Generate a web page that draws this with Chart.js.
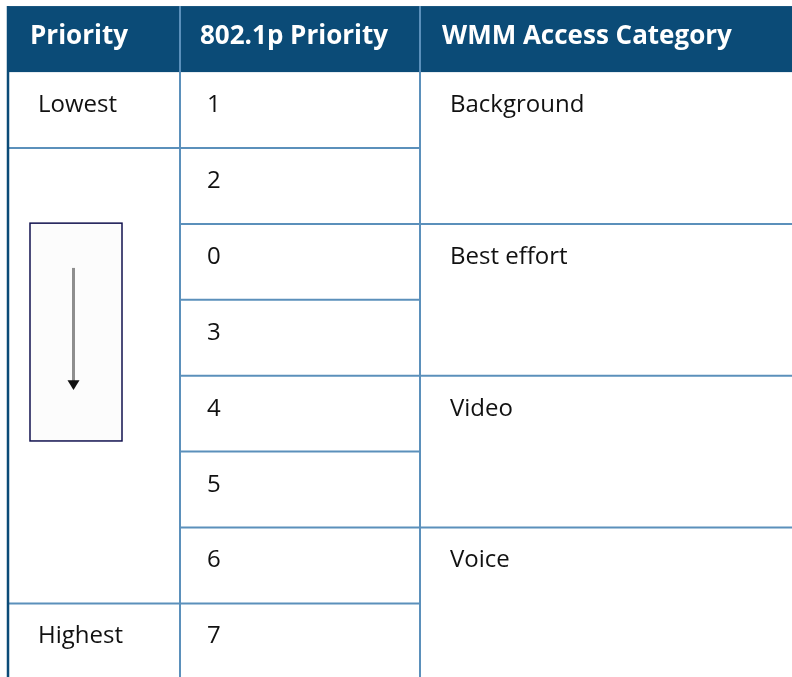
<!DOCTYPE html>
<html>
<head>
<meta charset="utf-8">
<script src="https://cdn.jsdelivr.net/npm/chart.js@4.4.1/dist/chart.umd.min.js"></script>
<style>
  html, body { margin: 0; padding: 0; background: #fff; }
  canvas { display: block; }
</style>
</head>
<body>
<canvas id="tablaPrioridad" width="792" height="677"></canvas>
<script>
const headers = ["Priority", "802.1p Priority", "WMM Access Category"];
const priorityLabels = ["Lowest", "", "Highest"];
const prioritySpans = [1, 6, 1];
const dot1pValues = ["1", "2", "0", "3", "4", "5", "6", "7"];
const wmmCategories = ["Background", "Best effort", "Video", "Voice"];
const wmmSpans = [2, 2, 2, 2];

// layout: x in page units, y in table rows (header sits above row 0)
const colEdges = [8, 180, 420, 792];
const headerTextX = [30, 200, 442];
const cellTextX = [38, 207, 450];
const HEADER_TOP = -0.87;
const HEADER_BASE = -0.37;
const TEXT_BASE = 0.527;

const HEADER_BG = "#0b4b77";
const GRID = "#5b90bb";
const FONT = "'Open Sans', 'Noto Sans', sans-serif";

function spanStarts(spans) {
  let r = 0;
  return spans.map(s => { const start = r; r += s; return start; });
}

const priorityStarts = spanStarts(prioritySpans);
const wmmStarts = spanStarts(wmmSpans);

const datasets = [
  {
    label: "priority",
    data: priorityLabels.map((t, i) => ({ x: cellTextX[0], y: priorityStarts[i] + TEXT_BASE, text: t }))
  },
  {
    label: "dot1p",
    data: dot1pValues.map((t, i) => ({ x: cellTextX[1], y: i + TEXT_BASE, text: t }))
  },
  {
    label: "wmm",
    data: wmmCategories.map((t, i) => ({ x: cellTextX[2], y: wmmStarts[i] + TEXT_BASE, text: t }))
  }
].map(d => Object.assign(d, { pointRadius: 0, pointHoverRadius: 0 }));

const tablePlugin = {
  id: "tablePlugin",
  beforeDatasetsDraw(chart) {
    const ctx = chart.ctx;
    const xs = chart.scales.x, ys = chart.scales.y;
    const X = v => xs.getPixelForValue(v);
    const Y = v => ys.getPixelForValue(v);
    const nRows = dot1pValues.length;
    ctx.save();

    // header band
    ctx.fillStyle = HEADER_BG;
    ctx.fillRect(X(colEdges[0]), Y(HEADER_TOP), X(colEdges[3]) - X(colEdges[0]), Y(0) - Y(HEADER_TOP));

    // horizontal lines per column
    ctx.strokeStyle = GRID;
    ctx.lineWidth = 2;
    const hline = (r, c) => {
      ctx.beginPath();
      ctx.moveTo(X(colEdges[c]), Y(r));
      ctx.lineTo(X(colEdges[c + 1]), Y(r));
      ctx.stroke();
    };
    priorityStarts.slice(1).forEach(r => hline(r, 0));
    for (let r = 1; r < nRows; r++) hline(r, 1);
    wmmStarts.slice(1).forEach(r => hline(r, 2));

    // vertical separators
    [colEdges[1], colEdges[2]].forEach(c => {
      ctx.beginPath();
      ctx.moveTo(X(c), Y(HEADER_TOP));
      ctx.lineTo(X(c), Y(nRows + 1));
      ctx.stroke();
    });
    ctx.strokeStyle = HEADER_BG;
    ctx.lineWidth = 2.5;
    ctx.beginPath();
    ctx.moveTo(X(colEdges[0]), Y(HEADER_TOP));
    ctx.lineTo(X(colEdges[0]), Y(nRows + 1));
    ctx.stroke();

    // arrow picture in the merged priority cell
    const bx0 = X(30), bx1 = X(122), by0 = Y(1.99), by1 = Y(4.86);
    ctx.fillStyle = "#fcfcfc";
    ctx.fillRect(bx0, by0, bx1 - bx0, by1 - by0);
    ctx.strokeStyle = "#12124f";
    ctx.lineWidth = 1.5;
    ctx.strokeRect(bx0, by0, bx1 - bx0, by1 - by0);
    const ax = X(73.5);
    ctx.strokeStyle = "#8e8e8e";
    ctx.lineWidth = 3;
    ctx.beginPath();
    ctx.moveTo(ax, Y(2.58));
    ctx.lineTo(ax, Y(4.07));
    ctx.stroke();
    ctx.fillStyle = "#111";
    ctx.beginPath();
    ctx.moveTo(ax - 6, Y(4.06));
    ctx.lineTo(ax + 6, Y(4.06));
    ctx.lineTo(ax, Y(4.19));
    ctx.closePath();
    ctx.fill();

    // header texts
    ctx.fillStyle = "#ffffff";
    ctx.font = "bold 26px " + FONT;
    ctx.textBaseline = "alphabetic";
    headers.forEach((h, i) => ctx.fillText(h, X(headerTextX[i]), Y(HEADER_BASE)));
    ctx.restore();
  },
  afterDatasetsDraw(chart) {
    const ctx = chart.ctx;
    ctx.save();
    ctx.fillStyle = "#111111";
    ctx.font = "24px " + FONT;
    ctx.textBaseline = "alphabetic";
    chart.data.datasets.forEach((ds, di) => {
      chart.getDatasetMeta(di).data.forEach((pt, j) => {
        const t = ds.data[j].text;
        if (t) ctx.fillText(t, pt.x, pt.y);
      });
    });
    ctx.restore();
  }
};

new Chart(document.getElementById("tablaPrioridad").getContext("2d"), {
  type: "scatter",
  data: { datasets: datasets },
  options: {
    responsive: false,
    maintainAspectRatio: false,
    animation: false,
    layout: { padding: 0 },
    plugins: {
      legend: { display: false },
      tooltip: { enabled: false }
    },
    scales: {
      x: { type: "linear", min: 0, max: 792, display: false },
      y: { type: "linear", min: -0.95, max: 7.97, reverse: true, display: false }
    }
  },
  plugins: [tablePlugin]
});
</script>
</body>
</html>
